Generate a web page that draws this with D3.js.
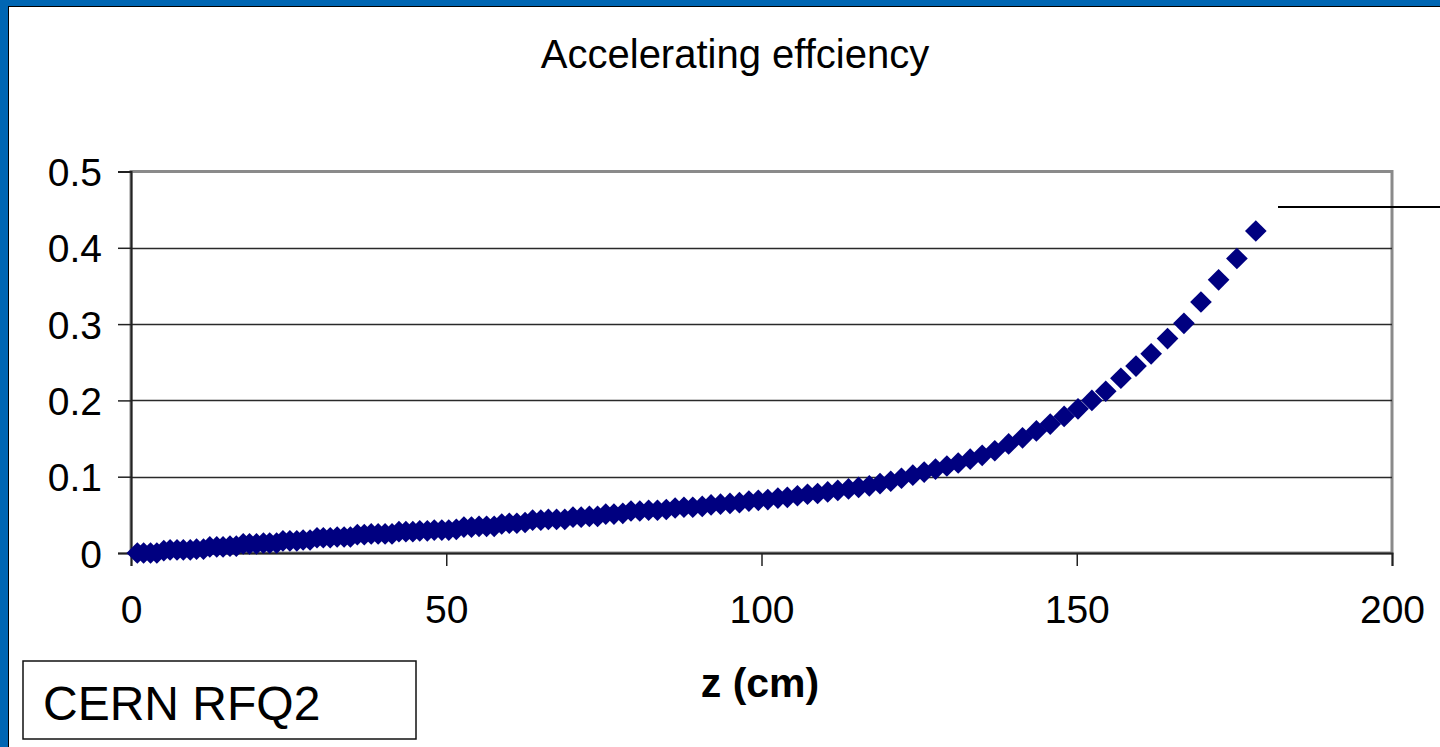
<!DOCTYPE html>
<html>
<head>
<meta charset="utf-8">
<script src="https://cdn.jsdelivr.net/npm/d3@7"></script>
<style>
  html, body { margin: 0; padding: 0; background: #0066B3; }
  svg { display: block; }
  text { font-family: "Liberation Sans", Arial, sans-serif; fill: #000; }
</style>
</head>
<body>
<svg id="chart" width="1440" height="747"></svg>
<script>
// ---- data ----
const zValues = [
  1.0, 2.0, 3.1, 4.1, 5.2, 6.2, 7.3, 8.3, 9.4, 10.4, 11.5, 12.5, 13.6, 14.6, 15.7, 16.7,
  17.8, 18.8, 19.9, 21.0, 22.0, 23.1, 24.1, 25.2, 26.3, 27.3, 28.4, 29.5, 30.5, 31.6, 32.7,
  33.8, 34.8, 35.9, 37.0, 38.1, 39.2, 40.3, 41.4, 42.5, 43.6, 44.7,
  45.8, 47.0, 48.1, 49.3, 50.4, 51.6, 52.8, 54.0, 55.2, 56.4, 57.6, 58.8, 60.0, 61.2, 62.5,
  63.7, 65.0, 66.2, 67.5, 68.8, 70.1, 71.4, 72.7, 74.0, 75.3, 76.6, 78.0, 79.3, 80.7, 82.1,
  83.5, 84.9, 86.3, 87.7, 89.1, 90.6, 92.0,
  93.5, 95.0, 96.5, 98.0, 99.5, 101.0, 102.6, 104.1, 105.7, 107.3, 108.9, 110.5, 112.1,
  113.8, 115.4, 117.1, 118.8, 120.5, 122.2, 124.0, 125.8, 127.6, 129.4, 131.2, 133.1,
  135.0, 137.0,
  139.2, 141.4, 143.6, 145.8, 148.0, 150.2, 152.4, 154.6, 157.0, 159.4, 161.8, 164.4,
  167.0, 169.7, 172.5, 175.4, 178.4
];
const efficiency = [
  0.000, 0.000, 0.000, 0.000, 0.003, 0.004, 0.004, 0.004, 0.004, 0.005, 0.005, 0.008, 0.008,
  0.008, 0.009, 0.009, 0.012, 0.012, 0.012, 0.013, 0.013, 0.013, 0.016, 0.016, 0.016, 0.017,
  0.017, 0.020, 0.020, 0.020, 0.021, 0.021, 0.021, 0.024, 0.024, 0.025, 0.025, 0.025, 0.025,
  0.028, 0.028, 0.028,
  0.029, 0.029, 0.030, 0.030, 0.030, 0.031, 0.034, 0.034, 0.035, 0.035, 0.035, 0.038, 0.039,
  0.039, 0.040, 0.043, 0.043, 0.044, 0.044, 0.044, 0.047, 0.047, 0.048, 0.048, 0.051, 0.051,
  0.052, 0.055, 0.055, 0.056, 0.056, 0.057, 0.059, 0.060, 0.060, 0.061, 0.063,
  0.064, 0.065, 0.066, 0.068, 0.069, 0.070, 0.072, 0.073, 0.075, 0.077, 0.078, 0.080, 0.082,
  0.084, 0.086, 0.088, 0.091, 0.094, 0.098, 0.102, 0.106, 0.110, 0.114, 0.118, 0.123,
  0.128, 0.134,
  0.143, 0.151, 0.160, 0.169, 0.179, 0.189, 0.200, 0.212, 0.229, 0.245, 0.261, 0.281,
  0.301, 0.329, 0.358, 0.386, 0.422
];
const xTicks = [0, 50, 100, 150, 200];
const yTicks = [0, 0.1, 0.2, 0.3, 0.4, 0.5];
const yTickLabels = ["0", "0.1", "0.2", "0.3", "0.4", "0.5"];
const titleText = "Accelerating effciency";
const xAxisTitle = "z (cm)";
const boxLabel = "CERN RFQ2";

// ---- drawing ----
const svg = d3.select("#chart");
const W = 1440, H = 747;

// slide background: blue with white panel and black edge
svg.append("rect").attr("x", 0).attr("y", 0).attr("width", W).attr("height", H).attr("fill", "#0066B3");
svg.append("rect").attr("x", 8).attr("y", 6).attr("width", W - 8).attr("height", H - 6).attr("fill", "#000");
svg.append("rect").attr("x", 9).attr("y", 7).attr("width", W - 9).attr("height", H - 7).attr("fill", "#fff");

const x = d3.scaleLinear().domain([0, 200]).range([131, 1392]);
const y = d3.scaleLinear().domain([0, 0.5]).range([553, 171.5]);

// plot frame (gray)
svg.append("rect")
  .attr("x", x(0)).attr("y", y(0.5))
  .attr("width", x(200) - x(0)).attr("height", y(0) - y(0.5))
  .attr("fill", "none").attr("stroke", "#8a8a8a").attr("stroke-width", 3);

// gridlines
svg.append("g").selectAll("line")
  .data(yTicks.filter(t => t > 0 && t < 0.5))
  .join("line")
  .attr("x1", x(0)).attr("x2", x(200))
  .attr("y1", d => Math.round(y(d)) + 0.5).attr("y2", d => Math.round(y(d)) + 0.5)
  .attr("stroke", "#2a2a2a").attr("stroke-width", 1.3);

// axes
const yAxis = d3.axisLeft(y).tickValues(yTicks).tickFormat((d, i) => yTickLabels[i])
  .tickSize(13).tickPadding(16);
const gy = svg.append("g").attr("transform", `translate(${x(0)},0)`).call(yAxis);
gy.select(".domain").attr("stroke", "#222").attr("stroke-width", 2);
gy.selectAll(".tick line").attr("stroke", "#222").attr("stroke-width", 1.5);
gy.selectAll(".tick text").style("font-size", "39px").style("font-family", "Liberation Sans, Arial, sans-serif")
  .attr("fill", "#000").attr("dy", "0.36em");

const xAxis = d3.axisBottom(x).tickValues(xTicks).tickFormat(d3.format("d"))
  .tickSize(13).tickPadding(28);
const gx = svg.append("g").attr("transform", `translate(0,${y(0)})`).call(xAxis);
gx.select(".domain").attr("stroke", "#222").attr("stroke-width", 2);
gx.selectAll(".tick line").attr("stroke", "#222").attr("stroke-width", 1.5);
gx.selectAll(".tick text").style("font-size", "39px").style("font-family", "Liberation Sans, Arial, sans-serif")
  .attr("fill", "#000").attr("dy", "0.71em").attr("y", 42);

// data points: navy diamonds
const pts = zValues.map((z, i) => ({ z, v: efficiency[i] }));
const diamond = d3.symbol().type(d3.symbolSquare).size(235);
svg.append("g").selectAll("path")
  .data(pts)
  .join("path")
  .attr("d", diamond)
  .attr("transform", d => `translate(${x(d.z)},${y(d.v)}) rotate(45)`)
  .attr("fill", "#000080");

// stray line at upper right
svg.append("line")
  .attr("x1", 1278).attr("x2", W).attr("y1", 207).attr("y2", 207)
  .attr("stroke", "#000").attr("stroke-width", 2);

// title
svg.append("text").attr("x", 735).attr("y", 68).attr("text-anchor", "middle")
  .style("font-size", "40px").text(titleText);

// x axis title
svg.append("text").attr("x", 760).attr("y", 697).attr("text-anchor", "middle")
  .style("font-size", "41px").style("font-weight", "bold").text(xAxisTitle);

// label box
svg.append("rect").attr("x", 23).attr("y", 661).attr("width", 393).attr("height", 78)
  .attr("fill", "#fff").attr("stroke", "#111").attr("stroke-width", 1.5);
svg.append("text").attr("x", 43).attr("y", 720).style("font-size", "48px").text(boxLabel);
</script>
</body>
</html>
